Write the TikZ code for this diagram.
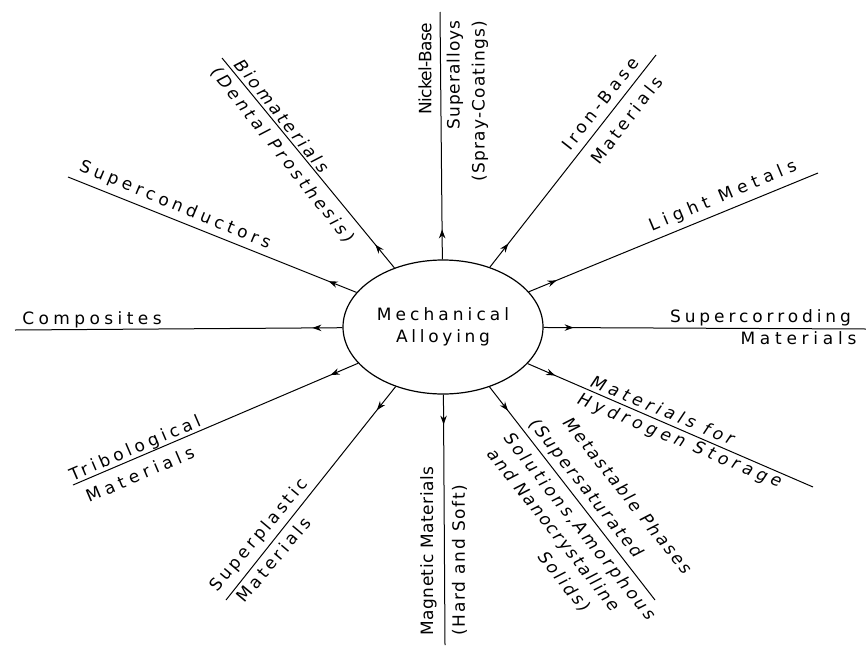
\documentclass[tikz,border=0pt]{standalone}
\usepackage{fontspec}
\setmainfont{DejaVu Sans}
\usetikzlibrary{arrows.meta,decorations.markings,shapes.geometric}
\newcommand\lsp[1]{\addfontfeatures{LetterSpace=#1}}
\begin{document}
\begin{tikzpicture}[x=1pt,y=-1pt,
  lbl/.style={inner sep=0pt, font=\fontsize{17}{21}\selectfont},
  ilbl/.style={inner sep=0pt, font=\fontsize{17}{21}\selectfont\itshape},
  arm/.style={line width=1pt, postaction={decorate},
    decoration={markings, mark=at position 30pt with {\arrow{Stealth[length=9pt,width=6.5pt]}}}},
  hub/.style={ellipse, draw, line width=1.2pt, minimum width=200pt, minimum height=134pt,
    inner sep=0pt, align=center, font=\fontsize{17}{22}\selectfont}]
\useasboundingbox[fill=white] (0,0) rectangle (866,645);

\node[hub] (ma) at (443,327) {\lsp{24}Mechanical\\\lsp{22}Alloying};

\coordinate (eNi) at (440,12);
\coordinate (eFe) at (656,55);
\coordinate (eLi) at (818,173);
\coordinate (eSc) at (866,329);
\coordinate (eHy) at (813,487);
\coordinate (eMe) at (655,600);
\coordinate (eMg) at (445,645);
\coordinate (eSp) at (226,600);
\coordinate (eTr) at (73,485);
\coordinate (eCo) at (15,330);
\coordinate (eSu) at (68,177);
\coordinate (eBi) at (222,58);

\foreach \e in {eNi,eFe,eLi,eSc,eHy,eMe,eMg,eSp,eTr,eCo,eSu,eBi}
  \draw[arm] (ma) -- (\e);

% Nickel-Base
\node[lbl, rotate=90] (tNi1) at (425,69) {\lsp{-4}Nickel-Base};
\node[lbl, rotate=90] (tNi2) at (455,75) {\lsp{6}Superalloys};
\node[lbl, rotate=90] (tNi3) at (480,101) {\lsp{7}(Spray-Coatings)};
% Iron-Base
\node[lbl, rotate=51.9] (tFe1) at (600.5,103.5) {\lsp{24}Iron-Base};
\node[lbl, rotate=51.9] (tFe2) at (626.5,120) {\lsp{20}Materials};
% Light Metals
\node[lbl, rotate=22.7] (tLi) at (723,196.5) {\lsp{32}Light Metals};
% Supercorroding
\node[lbl] (tSc1) at (760.5,318) {\lsp{23}Supercorroding};
\node[lbl] (tSc2) at (798.5,338.5) {\lsp{28}Materials};
% Hydrogen
\node[ilbl, rotate=-22.6] (tHy1) at (663,410) {\lsp{25}Materials for};
\node[ilbl, rotate=-22.6] (tHy2) at (679.5,441.5) {\lsp{27}Hydrogen Storage};
% Metastable
\node[ilbl, rotate=-51.6] (tMe1) at (628,495.5) {\lsp{14}Metastable Phases};
\node[ilbl, rotate=-51.6] (tMe2) at (585.5,488.5) {\lsp{14}(Supersaturated};
\node[ilbl, rotate=-51.6] (tMe3) at (579,527) {\lsp{17}Solutions,Amorphous};
\node[ilbl, rotate=-51.6] (tMe4) at (553,530.5) {\lsp{11}and Nanocrystalline};
\node[ilbl, rotate=-51.6] (tMe5) at (564,582) {\lsp{15}Solids)};
% Magnetic
\node[lbl, rotate=90] (tMg1) at (428.5,551) {\lsp{3}Magnetic Materials};
\node[lbl, rotate=90] (tMg2) at (459.5,560) {\lsp{10}(Hard and Soft)};
% Superplastic
\node[lbl, rotate=50] (tSp1) at (259.5,535.5) {\lsp{19}Superplastic};
\node[lbl, rotate=50] (tSp2) at (273.5,559.5) {\lsp{20}Materials};
% Tribological
\node[lbl, rotate=23.2] (tTr1) at (135.5,449) {\lsp{24}Tribological};
\node[lbl, rotate=23.2] (tTr2) at (140,474) {\lsp{28}Materials};
% Composites
\node[lbl] (tCo) at (92,320) {\lsp{26}Composites};
% Superconductors
\node[lbl, rotate=-22.6] (tSu) at (175,205.5) {\lsp{26}Superconductors};
% Biomaterials
\node[ilbl, rotate=-51.5] (tBi1) at (282.5,116) {\lsp{18}Biomaterials};
\node[ilbl, rotate=-51.5] (tBi2) at (282.5,155.5) {\lsp{20}(Dental Prosthesis)};
\end{tikzpicture}
\end{document}
